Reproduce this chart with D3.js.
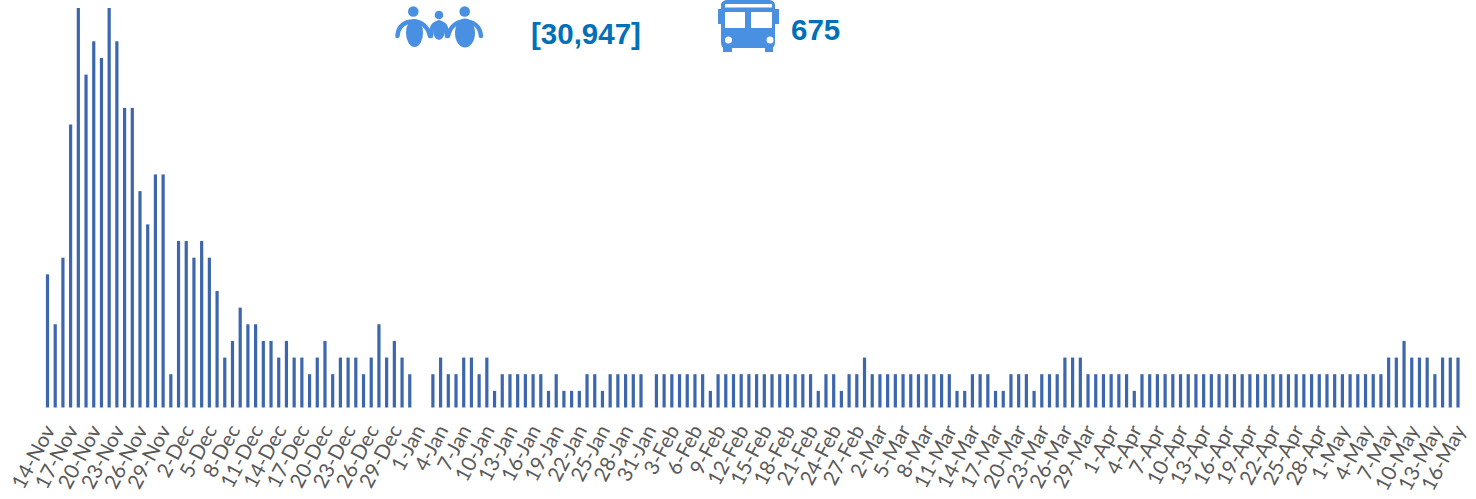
<!DOCTYPE html>
<html lang="en">

<head>
	<meta charset="utf-8">
	<script src="https://d3js.org/d3.v7.min.js"></script>
	<style>
		html, body { margin: 0; padding: 0; background: #fff; }
		svg { display: block; }
	</style>
</head>

<body>
	<script>
	// Set Dimensions
	const xSize = 1476;
	const ySize = 499;

	// Days shown on the x axis
	const days = [
		"14-Nov","15-Nov","16-Nov","17-Nov","18-Nov","19-Nov","20-Nov","21-Nov","22-Nov","23-Nov","24-Nov","25-Nov","26-Nov","27-Nov","28-Nov","29-Nov","30-Nov",
		"1-Dec","2-Dec","3-Dec","4-Dec","5-Dec","6-Dec","7-Dec","8-Dec","9-Dec","10-Dec","11-Dec","12-Dec","13-Dec","14-Dec","15-Dec","16-Dec","17-Dec","18-Dec","19-Dec","20-Dec","21-Dec","22-Dec","23-Dec","24-Dec","25-Dec","26-Dec","27-Dec","28-Dec","29-Dec","30-Dec","31-Dec",
		"1-Jan","2-Jan","3-Jan","4-Jan","5-Jan","6-Jan","7-Jan","8-Jan","9-Jan","10-Jan","11-Jan","12-Jan","13-Jan","14-Jan","15-Jan","16-Jan","17-Jan","18-Jan","19-Jan","20-Jan","21-Jan","22-Jan","23-Jan","24-Jan","25-Jan","26-Jan","27-Jan","28-Jan","29-Jan","30-Jan","31-Jan",
		"1-Feb","2-Feb","3-Feb","4-Feb","5-Feb","6-Feb","7-Feb","8-Feb","9-Feb","10-Feb","11-Feb","12-Feb","13-Feb","14-Feb","15-Feb","16-Feb","17-Feb","18-Feb","19-Feb","20-Feb","21-Feb","22-Feb","23-Feb","24-Feb","25-Feb","26-Feb","27-Feb","28-Feb",
		"1-Mar","2-Mar","3-Mar","4-Mar","5-Mar","6-Mar","7-Mar","8-Mar","9-Mar","10-Mar","11-Mar","12-Mar","13-Mar","14-Mar","15-Mar","16-Mar","17-Mar","18-Mar","19-Mar","20-Mar","21-Mar","22-Mar","23-Mar","24-Mar","25-Mar","26-Mar","27-Mar","28-Mar","29-Mar","30-Mar","31-Mar",
		"1-Apr","2-Apr","3-Apr","4-Apr","5-Apr","6-Apr","7-Apr","8-Apr","9-Apr","10-Apr","11-Apr","12-Apr","13-Apr","14-Apr","15-Apr","16-Apr","17-Apr","18-Apr","19-Apr","20-Apr","21-Apr","22-Apr","23-Apr","24-Apr","25-Apr","26-Apr","27-Apr","28-Apr","29-Apr","30-Apr",
		"1-May","2-May","3-May","4-May","5-May","6-May","7-May","8-May","9-May","10-May","11-May","12-May","13-May","14-May","15-May","16-May"
	];

	// Daily counts, 0 where there is no bar
	const counts = [
		8,5,9,17,24,20,22,21,24,22,18,18,13,11,14,14,2,
		10,10,9,10,9,7,3,4,6,5,5,4,4,3,4,3,3,2,3,4,2,3,3,3,2,3,5,3,4,3,2,
		0,0,2,3,2,2,3,3,2,3,1,2,2,2,2,2,2,1,2,1,1,1,2,2,1,2,2,2,2,2,0,
		2,2,2,2,2,2,2,1,2,2,2,2,2,2,2,2,2,2,2,2,2,1,2,2,1,2,2,3,
		2,2,2,2,2,2,2,2,2,2,2,1,1,2,2,2,1,1,2,2,2,1,2,2,2,3,3,3,2,2,2,
		2,2,2,1,2,2,2,2,2,2,2,2,2,2,2,2,2,2,2,2,2,2,2,2,2,2,2,2,2,2,
		2,2,2,2,2,2,3,3,4,3,3,3,2,3,3,3
	];

	// Every third day gets a label
	const tickDays = days.filter((d, i) => i % 3 === 0);

	const peopleLabel = "[30,947]";
	const busLabel = "675";

	const svg = d3.select("body")
		.append("svg")
		.attr("width", xSize)
		.attr("height", ySize);

	// X Axis
	const x = d3.scalePoint()
		.domain(days)
		.range([47.5, 1458]);

	// Y Axis
	const y = d3.scaleLinear()
		.domain([0, 24])
		.range([407.5, 8]);

	// Bars
	svg.append("g")
		.selectAll("rect")
		.data(counts)
		.enter().append("rect")
		.attr("x", (d, i) => x(days[i]) - 1.6)
		.attr("y", d => y(d))
		.attr("width", 3.2)
		.attr("height", d => y(0) - y(d))
		.attr("fill", "#3c66ae");

	// Labels
	const axis = svg.append("g")
		.attr("transform", "translate(1,432)")
		.call(d3.axisBottom(x).tickValues(tickDays).tickSize(0));
	axis.select(".domain").remove();
	axis.selectAll("text")
		.attr("font-family", "Lato, 'Open Sans', sans-serif")
		.attr("font-size", 20.5)
		.attr("fill", "#595959")
		.attr("text-anchor", "end")
		.attr("dx", 0)
		.attr("dy", 0)
		.attr("x", 5)
		.attr("y", 5)
		.attr("transform", "rotate(-62)");

	// People icon
	const peopleColor = "#4a90e2";
	const people = svg.append("g");
	people.selectAll("circle")
		.data([[413.3, 11.5, 5.3], [439, 15, 4.3], [464.7, 11.5, 5.3]])
		.enter().append("circle")
		.attr("cx", d => d[0])
		.attr("cy", d => d[1])
		.attr("r", d => d[2])
		.attr("fill", peopleColor);
	people.selectAll("ellipse")
		.data([[414.5, 33, 8.5, 14], [439, 30, 6, 10], [465, 33, 10, 14.5]])
		.enter().append("ellipse")
		.attr("cx", d => d[0])
		.attr("cy", d => d[1])
		.attr("rx", d => d[2])
		.attr("ry", d => d[3])
		.attr("fill", peopleColor);
	people.selectAll("path")
		.data([
			"M397.5 36C398 26 405 21.5 413 21.5C422 21.5 428 27 430 36",
			"M481 36C480 26 473 21.5 465 21.5C456 21.5 450 27 448 36",
			"M431 36C431 27 434 23 439 23C444 23 447 27 447 36"
		])
		.enter().append("path")
		.attr("d", d => d)
		.attr("fill", "none")
		.attr("stroke", peopleColor)
		.attr("stroke-width", 4.5)
		.attr("stroke-linecap", "round");

	// Bus icon
	svg.append("path")
		.attr("fill", "#4a90e2")
		.attr("fill-rule", "evenodd")
		.attr("d", "M723 52V47.5C722 47 721 45 721 42V24H718V9H721V5C721 2 724 0 728 0H768C772 0 775 2 775 5V9H779V24H775V42C775 45 774 47 773 47.5V52H765V48H732V52ZM725 4V7.5H772V4ZM725 12V28H745V12ZM751 12V28H772V12ZM728.5 36.5A3.5 3.5 0 1 0 728.5 43.5A3.5 3.5 0 1 0 728.5 36.5ZM770 36.5A3.5 3.5 0 1 0 770 43.5A3.5 3.5 0 1 0 770 36.5Z");

	// Counters
	svg.selectAll("text.counter")
		.data([[531, 44, peopleLabel], [791, 40, busLabel]])
		.enter().append("text")
		.attr("class", "counter")
		.attr("x", d => d[0])
		.attr("y", d => d[1])
		.attr("font-family", "'Liberation Sans', Arial, sans-serif")
		.attr("font-weight", "bold")
		.attr("font-size", 29.5)
		.attr("fill", "#0070b8")
		.text(d => d[2]);
	</script>
</body>

</html>
